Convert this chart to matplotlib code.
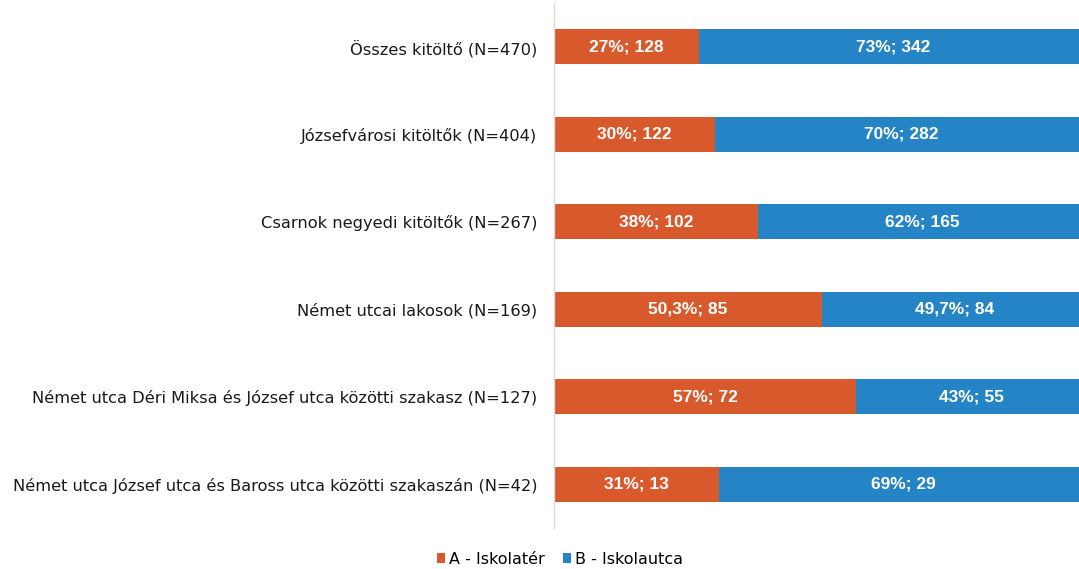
import matplotlib
matplotlib.use("Agg")
import matplotlib.pyplot as plt
from matplotlib.patches import Patch
import numpy as np

categories = [
    "Összes kitöltő (N=470)",
    "Józsefvárosi kitöltők (N=404)",
    "Csarnok negyedi kitöltők (N=267)",
    "Német utcai lakosok (N=169)",
    "Német utca Déri Miksa és József utca közötti szakasz (N=127)",
    "Német utca József utca és Baross utca közötti szakaszán (N=42)",
]
a_counts = [128, 122, 102, 85, 72, 13]
b_counts = [342, 282, 165, 84, 55, 29]
a_labels = ["27%; 128", "30%; 122", "38%; 102", "50,3%; 85", "57%; 72", "31%; 13"]
b_labels = ["73%; 342", "70%; 282", "62%; 165", "49,7%; 84", "43%; 55", "69%; 29"]
series_names = ["A - Iskolatér", "B - Iskolautca"]
colors = ["#D85A2C", "#2584C6"]

plt.rcParams['font.family'] = ['DejaVu Sans']

W, H = 1079, 569
fig = plt.figure(figsize=(W / 100, H / 100), dpi=100)
ax = fig.add_axes([554 / W, 1 - 528 / H, 533 / W, 525 / H])

a = np.array(a_counts, dtype=float)
b = np.array(b_counts, dtype=float)
tot = a + b
ash = a / tot
bsh = b / tot
y = np.arange(len(categories))

ax.barh(y, ash, height=0.4, color=colors[0], edgecolor="none")
ax.barh(y, bsh, left=ash, height=0.4, color=colors[1], edgecolor="none")

for i in range(len(categories)):
    ax.text(ash[i] / 2, y[i], a_labels[i], ha="center", va="center",
            color="white", fontsize=12.5, fontweight="bold", family="Liberation Sans")
    ax.text(ash[i] + bsh[i] / 2, y[i], b_labels[i], ha="center", va="center",
            color="white", fontsize=12.5, fontweight="bold", family="Liberation Sans")

ax.set_xlim(0, 1)
ax.set_ylim(len(categories) - 0.5, -0.5)
ax.set_yticks(y)
ax.set_yticklabels(categories, fontsize=11.7, color="#1a1a1a")
ax.tick_params(axis="y", length=0, pad=12)
ax.set_xticks([])
for s in ["top", "right", "bottom"]:
    ax.spines[s].set_visible(False)
ax.spines["left"].set_color("#d9d9d9")
ax.spines["left"].set_linewidth(1.0)

handles = [Patch(facecolor=colors[0]), Patch(facecolor=colors[1])]
fig.legend(handles, series_names, loc="center", bbox_to_anchor=(560 / W, 1 - 559 / H),
           ncol=2, frameon=False, fontsize=11.5, handlelength=0.55, handleheight=0.55,
           handletextpad=0.25, columnspacing=1.1)

fig.savefig("out.png", dpi=100)
